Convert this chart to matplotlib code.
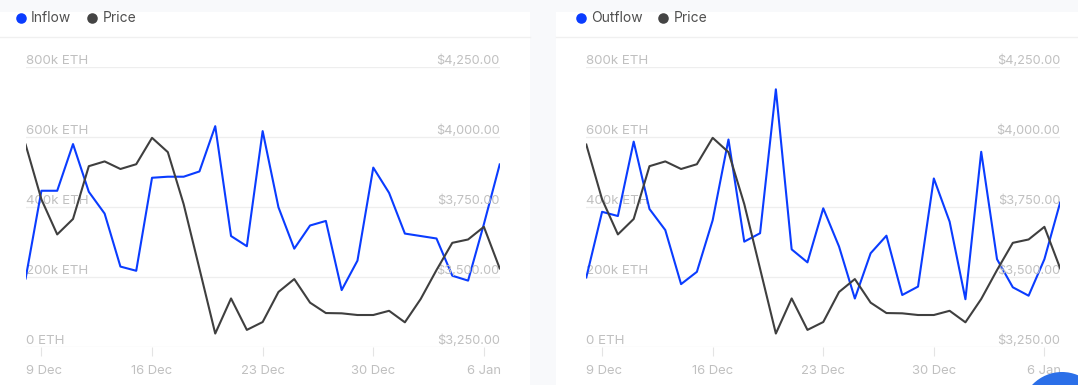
import matplotlib.pyplot as plt
from matplotlib.patches import Rectangle, Circle
from matplotlib.transforms import ScaledTranslation

plt.rcParams['font.family'] = ['Inter', 'DejaVu Sans']

W, H = 1078, 385

# daily values, 8 Dec to 7 Jan
inflow = [196, 446, 446, 579, 443, 381, 230, 218, 483, 486, 486, 501, 630, 317, 288, 616,
          399, 281, 347, 360, 163, 247, 512, 440, 324, 317, 310, 204, 190, 351, 521]
outflow = [199, 386, 374, 586, 394, 334, 180, 215, 362, 592, 301, 325, 735, 279, 242, 396,
           287, 139, 268, 318, 149, 173, 481, 358, 137, 557, 251, 171, 147, 251, 413]
price = [3972, 3777, 3652, 3707, 3895, 3912, 3885, 3902, 3996, 3945, 3760, 3530, 3299, 3424,
         3312, 3340, 3447, 3493, 3409, 3372, 3371, 3365, 3365, 3380, 3339, 3422, 3525, 3622,
         3634, 3679, 3531]

date_ticks = [1, 8, 15, 22, 29]
date_labels = ['9 Dec', '16 Dec', '23 Dec', '30 Dec', '6 Jan']
flow_ticks = [0, 200, 400, 600, 800]
flow_labels = ['0 ETH', '200k ETH', '400k ETH', '600k ETH', '800k ETH']
price_ticks = [3250, 3500, 3750, 4000, 4250]
price_labels = ['$3,250.00', '$3,500.00', '$3,750.00', '$4,000.00', '$4,250.00']

BLUE = '#0a3cff'
DARK = '#3f3f3f'
LABEL = '#c0c0c0'
GRID = '#eeeeee'

fig = plt.figure(figsize=(W / 100, H / 100), dpi=100, facecolor='#f8f9fb')


def panel(x0, x1, values, left, right):
    fig.add_artist(Rectangle((x0 / W, 0), (x1 - x0) / W, (H - 11.5) / H, color='white', lw=0, zorder=-2))
    fig.add_artist(plt.Line2D([x0 / W, x1 / W], [1 - 36.5 / H] * 2, color='#f0f0f0', lw=1, zorder=-1))

    ax = fig.add_axes([left / W, 1 - 347.3 / H, (right - left) / W, 280.8 / H])
    ax.patch.set_alpha(0)
    ax.set_xlim(0, 30)
    ax.set_ylim(0, 800)
    for s in ax.spines.values():
        s.set_visible(False)
    ax.set_yticks([])
    ax.set_xticks(date_ticks, date_labels)
    ax.tick_params(axis='x', length=6.5, width=0.8, color='#e4e4e4', labelcolor=LABEL,
                   labelsize=9.4, pad=6.5)
    # first date label is pushed in so it starts at the plot edge
    first = ax.get_xticklabels()[0]
    first.set_ha('left')
    first.set_transform(first.get_transform() + ScaledTranslation(-15.8 / 100, 0, fig.dpi_scale_trans))
    for t, lab in zip(flow_ticks, flow_labels):
        ax.axhline(t, color=GRID, lw=0.9, zorder=1)
        ax.annotate(lab, (0, t), xytext=(0, 4.2), textcoords='offset points',
                    color=LABEL, fontsize=9.6, ha='left', va='center')
    ax.plot(values, color=BLUE, lw=1.5, zorder=3)

    ax2 = ax.twinx()
    ax2.set_ylim(3250, 4250)
    for s in ax2.spines.values():
        s.set_visible(False)
    ax2.set_yticks([])
    for t, lab in zip(price_ticks, price_labels):
        ax2.annotate(lab, (30, t), xytext=(0, 4.4), textcoords='offset points',
                     color=LABEL, fontsize=9.2, ha='right', va='center')
    ax2.plot(price, color=DARK, lw=1.5, zorder=3)


def legend(dot1, text1, name, dot2, text2):
    y = 1 - 17.5 / H
    for dx, c in ((dot1, BLUE), (dot2, '#444444')):
        fig.add_artist(plt.Line2D([dx / W], [y], marker='o', ms=7.6, color=c, mew=0))
    fig.text(text1 / W, y, name, color='#505050', fontsize=10, va='center')
    fig.text(text2 / W, y, 'Price', color='#505050', fontsize=10, va='center')


panel(-2, 530, inflow, 25.6, 499.7)
panel(556, W + 2, outflow, 586.3, 1060.2)
legend(21, 31, 'Inflow', 92, 102.5)
legend(581, 591.5, 'Outflow', 662.5, 674)

# chat bubble cut off at the corner
bubble = fig.add_axes([0, 0, 1, 1], facecolor='none')
bubble.set_xlim(0, W)
bubble.set_ylim(H, 0)
bubble.axis('off')
bubble.add_patch(Circle((1062, 413), 41, color='#2b6fe8', lw=0))

fig.savefig('out.png', dpi=100, facecolor=fig.get_facecolor())
